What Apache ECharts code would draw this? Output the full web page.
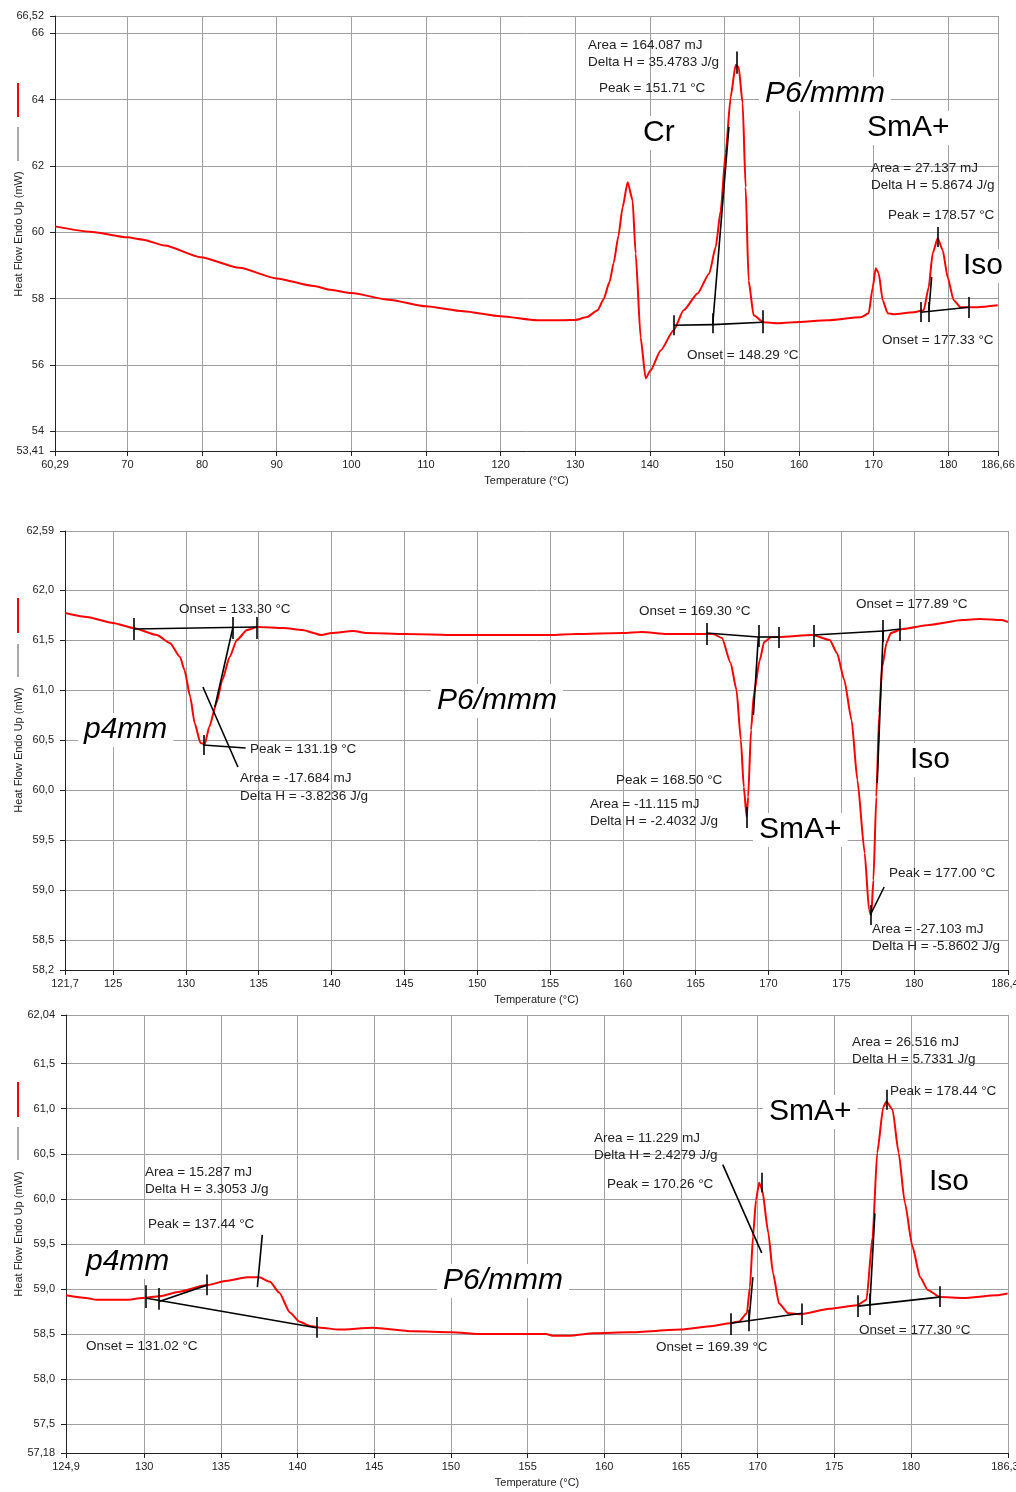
<!DOCTYPE html>
<html><head><meta charset="utf-8">
<script src="https://cdn.jsdelivr.net/npm/echarts@6/dist/echarts.min.js"></script>
<style>html,body{margin:0;padding:0;background:#fff}#c{width:1016px;height:1492px}</style>
</head><body><div id="c"></div>
<script>
// ---------- DATA ----------
// Panel 1 (heating, first run)
const p1XTicks = [60.29, 70, 80, 90, 100, 110, 120, 130, 140, 150, 160, 170, 180, 186.66];
const p1XLabels = ['60,29','70','80','90','100','110','120','130','140','150','160','170','180','186,66'];
const p1YTicks = [53.41, 54, 56, 58, 60, 62, 64, 66, 66.52];
const p1YLabels = ['53,41','54','56','58','60','62','64','66','66,52'];
const p1Curve = [[60.29,60.18],[65,60.02],[70,59.85],[72.1,59.78],[75,59.6],[79.8,59.25],[85,58.93],[90,58.61],[95,58.38],[97.2,58.27],[100,58.17],[105,57.97],[110,57.77],[115,57.62],[120,57.47],[124.9,57.35],[128.5,57.35],[130,57.36],[131.6,57.45],[133,57.65],[133.8,57.98],[134.6,58.5],[135.15,59.07],[135.8,59.9],[136.35,60.75],[137.03,61.51],[137.69,60.97],[138.1,59.37],[138.77,56.83],[139.44,55.6],[140.11,55.84],[141.45,56.44],[143.19,57.05],[144.53,57.65],[146.41,58.16],[147.96,58.76],[148.82,59.55],[149.5,60.66],[150.16,62.38],[150.83,64.07],[151.5,65.04],[151.9,64.98],[152.44,63.89],[152.84,61.36],[153.24,58.55],[153.91,57.5],[155.25,57.29],[157.13,57.26],[159.28,57.29],[163.83,57.35],[168.26,57.44],[169.33,57.56],[169.87,58.34],[170.27,58.92],[170.67,58.77],[171.21,57.95],[171.88,57.56],[172.68,57.53],[175.36,57.59],[176.7,57.65],[177.37,58.34],[177.91,59.37],[178.58,59.82],[179.25,59.46],[179.92,58.64],[180.72,57.95],[181.66,57.74],[183.94,57.74],[186.62,57.8]];
const p1Marks = [[143.19,57.2,148.42,57.22],[148.42,57.22,155.12,57.29],[143.19,56.9,143.19,57.5],[148.42,56.96,148.42,57.56],[155.12,56.96,155.12,57.65],[148.42,57.2,150.6,63.18],[151.71,64.78,151.71,65.45],[176.3,57.59,182.73,57.74],[176.3,57.3,176.3,57.9],[177.37,57.3,177.37,57.9],[182.77,57.42,182.77,58.05],[177.4,57.65,177.77,58.65],[178.6,59.56,178.6,60.16]];

// Panel 2 (cooling)
const p2XTicks = [121.7, 125, 130, 135, 140, 145, 150, 155, 160, 165, 170, 175, 180, 186.44];
const p2XLabels = ['121,7','125','130','135','140','145','150','155','160','165','170','175','180','186,44'];
const p2YTicks = [58.2, 58.5, 59.0, 59.5, 60.0, 60.5, 61.0, 61.5, 62.0, 62.59];
const p2YLabels = ['58,2','58,5','59,0','59,5','60,0','60,5','61,0','61,5','62,0','62,59'];
const p2Curve = [[121.7,61.77],[123.2,61.73],[125,61.67],[126.4,61.62],[128,61.55],[128.9,61.47],[129.6,61.33],[129.9,61.2],[130.3,60.93],[130.6,60.67],[131,60.47],[131.3,60.46],[131.6,60.63],[132.1,60.87],[132.5,61.1],[133,61.33],[133.5,61.5],[134.2,61.6],[134.9,61.63],[136.7,61.62],[138,61.6],[139.3,61.55],[140,61.57],[141.5,61.59],[142.4,61.57],[145.1,61.56],[148.6,61.55],[155,61.55],[156.8,61.56],[160,61.57],[161.3,61.58],[163,61.56],[165.3,61.56],[166.2,61.56],[166.8,61.52],[167.4,61.27],[167.8,61],[168.1,60.5],[168.3,60.03],[168.5,59.73],[168.6,59.93],[168.8,60.6],[169,60.97],[169.4,61.3],[169.7,61.48],[170.2,61.53],[170.7,61.53],[173,61.55],[174.2,61.5],[174.7,61.37],[175.2,61.1],[175.7,60.7],[176.1,60.1],[176.6,59.37],[176.9,58.8],[177.05,58.75],[177.2,59.1],[177.4,59.93],[177.6,60.77],[177.8,61.23],[178.1,61.47],[178.4,61.57],[179.2,61.61],[181,61.65],[183.3,61.7],[184.5,61.71],[186,61.7],[186.44,61.68]];
const p2Marks = [[126.43,61.61,134.87,61.63],[126.43,61.5,126.43,61.72],[133.22,61.51,133.22,61.73],[134.87,61.51,134.87,61.73],[133.22,61.62,131.99,60.83],[131.17,61.03,133.57,60.23],[131.17,60.45,134.1,60.42],[131.2,60.35,131.2,60.55],[165.73,61.57,169.3,61.53],[169.3,61.53,170.67,61.53],[165.73,61.45,165.73,61.67],[169.3,61.43,169.3,61.65],[170.67,61.42,170.67,61.63],[169.3,61.53,168.96,60.75],[168.5,59.62,168.5,59.83],[173.07,61.55,177.87,61.59],[177.87,61.59,179.04,61.61],[173.07,61.43,173.07,61.65],[177.87,61.48,177.87,61.7],[179.04,61.49,179.04,61.71],[177.87,61.59,177.46,60.07],[176.98,58.75,177.94,59.03],[177.0,58.65,177.0,58.85]];

// Panel 3 (second heating)
const p3XTicks = [124.9, 130, 135, 140, 145, 150, 155, 160, 165, 170, 175, 180, 186.33];
const p3XLabels = ['124,9','130','135','140','145','150','155','160','165','170','175','180','186,33'];
const p3YTicks = [57.18, 57.5, 58.0, 58.5, 59.0, 59.5, 60.0, 60.5, 61.0, 61.5, 62.04];
const p3YLabels = ['57,18','57,5','58,0','58,5','59,0','59,5','60,0','60,5','61,0','61,5','62,04'];
const p3Curve = [[124.9,58.93],[126.2,58.9],[126.9,58.88],[128.8,58.88],[129.9,58.9],[131,58.92],[132.3,58.97],[134,59.04],[135.4,59.09],[136.7,59.13],[137.5,59.13],[138.2,59.08],[138.8,58.96],[139.5,58.74],[140.1,58.64],[140.8,58.59],[141.5,58.57],[142.7,58.55],[144.9,58.57],[147.5,58.53],[150,58.52],[152.1,58.5],[155,58.5],[156.2,58.5],[156.7,58.48],[157.7,58.48],[159.3,58.51],[161.7,58.52],[165,58.55],[167.1,58.59],[168.2,58.62],[168.8,58.64],[169.3,58.73],[169.5,59.02],[169.7,59.58],[169.9,59.99],[170.1,60.18],[170.3,60.1],[170.7,59.62],[171,59.18],[171.4,58.84],[172,58.73],[172.8,58.72],[174.7,58.78],[176.5,58.82],[177.1,58.88],[177.5,59.58],[177.8,60.51],[178.2,61.02],[178.4,61.08],[178.8,60.99],[179.2,60.51],[179.6,59.96],[180.1,59.47],[180.6,59.13],[181.1,58.99],[181.9,58.91],[183.4,58.9],[185.6,58.93],[186.3,58.95]];
const p3Marks = [[130.07,58.9,141.23,58.57],[130.07,58.79,130.07,59.04],[130.98,58.77,130.98,59.01],[141.23,58.46,141.23,58.69],[130.98,58.86,134.05,59.04],[134.05,58.93,134.05,59.16],[137.38,59.02,137.7,59.6],[168.25,58.62,172.89,58.73],[168.25,58.49,168.25,58.73],[169.45,58.53,169.45,58.77],[172.87,58.6,172.87,58.84],[169.43,58.63,169.69,59.13],[167.73,60.38,170.27,59.4],[170.26,60.07,170.26,60.29],[176.54,58.81,181.83,58.91],[176.56,58.69,176.56,58.93],[177.32,58.71,177.32,58.95],[181.85,58.8,181.85,59.03],[177.32,58.82,177.65,59.84],[178.43,60.99,178.43,61.21]];

// ---------- CHART ----------
const F = "'Liberation Sans', Arial, Helvetica, sans-serif";
function fmt(ticks, labels) {
  return function (v) {
    let bi = 0, bd = Infinity;
    ticks.forEach((t, i) => { const d = Math.abs(t - v); if (d < bd) { bd = d; bi = i; } });
    return labels[bi];
  };
}
function xAx(gi, ticks, labels) {
  return {
    type: 'value', gridIndex: gi, min: ticks[0], max: ticks[ticks.length - 1],
    axisLine: { show: true, onZero: false, lineStyle: { color: '#222', width: 1 } },
    axisTick: { show: true, inside: false, length: 5, customValues: ticks, lineStyle: { color: '#222' } },
    axisLabel: { customValues: ticks, formatter: fmt(ticks, labels), margin: 8, fontSize: 11, color: '#222', fontFamily: F, showMinLabel: true, showMaxLabel: true, hideOverlap: false },
    splitLine: { show: true, showMinLine: true, showMaxLine: true, lineStyle: { color: '#a0a0a0', width: 1 } },
    name: 'Temperature (°C)', nameLocation: 'middle', nameGap: 24,
    nameTextStyle: { fontSize: 11, color: '#222', fontFamily: F }
  };
}
function yAx(gi, ticks, labels) {
  return {
    type: 'value', gridIndex: gi, min: ticks[0], max: ticks[ticks.length - 1],
    axisLine: { show: true, onZero: false, lineStyle: { color: '#222', width: 1 } },
    axisTick: { show: true, inside: false, length: 5, customValues: ticks, lineStyle: { color: '#222' } },
    axisLabel: { customValues: ticks, formatter: fmt(ticks, labels), margin: 11, fontSize: 11, color: '#222', fontFamily: F, showMinLabel: true, showMaxLabel: true, hideOverlap: false },
    splitLine: { show: true, showMinLine: true, showMaxLine: true, lineStyle: { color: '#a0a0a0', width: 1 } }
  };
}
function ser(gi, curve, marks) {
  return {
    type: 'line', xAxisIndex: gi, yAxisIndex: gi, data: curve, symbol: 'none',
    smooth: 0.2, smoothMonotone: 'x',
    lineStyle: { color: '#ff0000', width: 2 }, itemStyle: { color: '#ff0000' }, silent: true, z: 3,
    markLine: {
      silent: true, symbol: ['none', 'none'], label: { show: false }, animation: false,
      lineStyle: { color: '#000', width: 1.6, type: 'solid' },
      emphasis: { disabled: true },
      data: marks.map(s => [{ coord: [s[0], s[1]] }, { coord: [s[2], s[3]] }])
    }
  };
}

const small = [
  // panel 1
  [588, 45, 'Area = 164.087 mJ'], [588, 62, 'Delta H = 35.4783 J/g'], [599, 88, 'Peak = 151.71 °C'],
  [871, 168, 'Area = 27.137 mJ'], [871, 185, 'Delta H = 5.8674 J/g'], [888, 215, 'Peak = 178.57 °C'],
  [687, 355, 'Onset = 148.29 °C'], [882, 340, 'Onset = 177.33 °C'],
  // panel 2
  [179, 609, 'Onset = 133.30 °C'], [250, 749, 'Peak = 131.19 °C'], [240, 778, 'Area = -17.684 mJ'], [240, 796, 'Delta H = -3.8236 J/g'],
  [639, 611, 'Onset = 169.30 °C'], [856, 604, 'Onset = 177.89 °C'], [616, 780, 'Peak = 168.50 °C'],
  [590, 804, 'Area = -11.115 mJ'], [590, 821, 'Delta H = -2.4032 J/g'],
  [889, 873, 'Peak = 177.00 °C'], [872, 929, 'Area = -27.103 mJ'], [872, 946, 'Delta H = -5.8602 J/g'],
  // panel 3
  [145, 1172, 'Area = 15.287 mJ'], [145, 1189, 'Delta H = 3.3053 J/g'], [148, 1224, 'Peak = 137.44 °C'],
  [86, 1346, 'Onset = 131.02 °C'],
  [852, 1042, 'Area = 26.516 mJ'], [852, 1059, 'Delta H = 5.7331 J/g'], [890, 1091, 'Peak = 178.44 °C'],
  [594, 1138, 'Area = 11.229 mJ'], [594, 1155, 'Delta H = 2.4279 J/g'], [607, 1184, 'Peak = 170.26 °C'],
  [656, 1347, 'Onset = 169.39 °C'], [859, 1330, 'Onset = 177.30 °C']
];
const big = [
  [643, 133, 'Cr', false], [765, 94, 'P6/mmm', true], [867, 128, 'SmA+', false], [963, 266, 'Iso', false],
  [84, 730, 'p4mm', true], [437, 701, 'P6/mmm', true], [759, 830, 'SmA+', false], [910, 760, 'Iso', false],
  [86, 1262, 'p4mm', true], [443, 1281, 'P6/mmm', true], [769, 1112, 'SmA+', false], [929, 1182, 'Iso', false]
];
const yTitles = [[19, 234, 83, 117, 127, 161], [19, 750, 598, 633, 644, 677], [19, 1234, 1082, 1117, 1127, 1160]];

const graphics = [];
small.forEach(a => graphics.push({ type: 'text', x: a[0], y: a[1], z: 10, silent: true,
  style: { text: a[2], font: '13.5px ' + F, fill: '#222', align: 'left', verticalAlign: 'middle' } }));
big.forEach(a => graphics.push({ type: 'text', x: a[0] - 6, y: a[1], z: 9, silent: true,
  style: { text: a[2], font: (a[3] ? 'italic ' : '') + '30px ' + F, fill: '#000', align: 'left', verticalAlign: 'middle',
    backgroundColor: '#fff', padding: [3, 6, 1, 6] } }));
yTitles.forEach(t => {
  graphics.push({ type: 'text', x: t[0], y: t[1], rotation: Math.PI / 2, z: 10, silent: true,
    style: { text: 'Heat Flow Endo Up (mW)', font: '11px ' + F, fill: '#222', align: 'center', verticalAlign: 'middle' } });
  graphics.push({ type: 'line', z: 10, silent: true, shape: { x1: 18, y1: t[2], x2: 18, y2: t[3] }, style: { stroke: '#ff0000', lineWidth: 2 } });
  graphics.push({ type: 'line', z: 10, silent: true, shape: { x1: 18, y1: t[4], x2: 18, y2: t[5] }, style: { stroke: '#555', lineWidth: 1 } });
});

const chart = echarts.init(document.getElementById('c'), null, { renderer: 'canvas' });
chart.setOption({
  animation: false,
  backgroundColor: '#fff',
  grid: [
    { left: 55, top: 16, width: 943, height: 435, outerBoundsMode: 'none', containLabel: false },
    { left: 65, top: 531, width: 943, height: 439, outerBoundsMode: 'none', containLabel: false },
    { left: 66, top: 1015, width: 942, height: 438, outerBoundsMode: 'none', containLabel: false }
  ],
  xAxis: [xAx(0, p1XTicks, p1XLabels), xAx(1, p2XTicks, p2XLabels), xAx(2, p3XTicks, p3XLabels)],
  yAxis: [yAx(0, p1YTicks, p1YLabels), yAx(1, p2YTicks, p2YLabels), yAx(2, p3YTicks, p3YLabels)],
  series: [ser(0, p1Curve, p1Marks), ser(1, p2Curve, p2Marks), ser(2, p3Curve, p3Marks)],
  graphic: graphics
});
</script></body></html>
